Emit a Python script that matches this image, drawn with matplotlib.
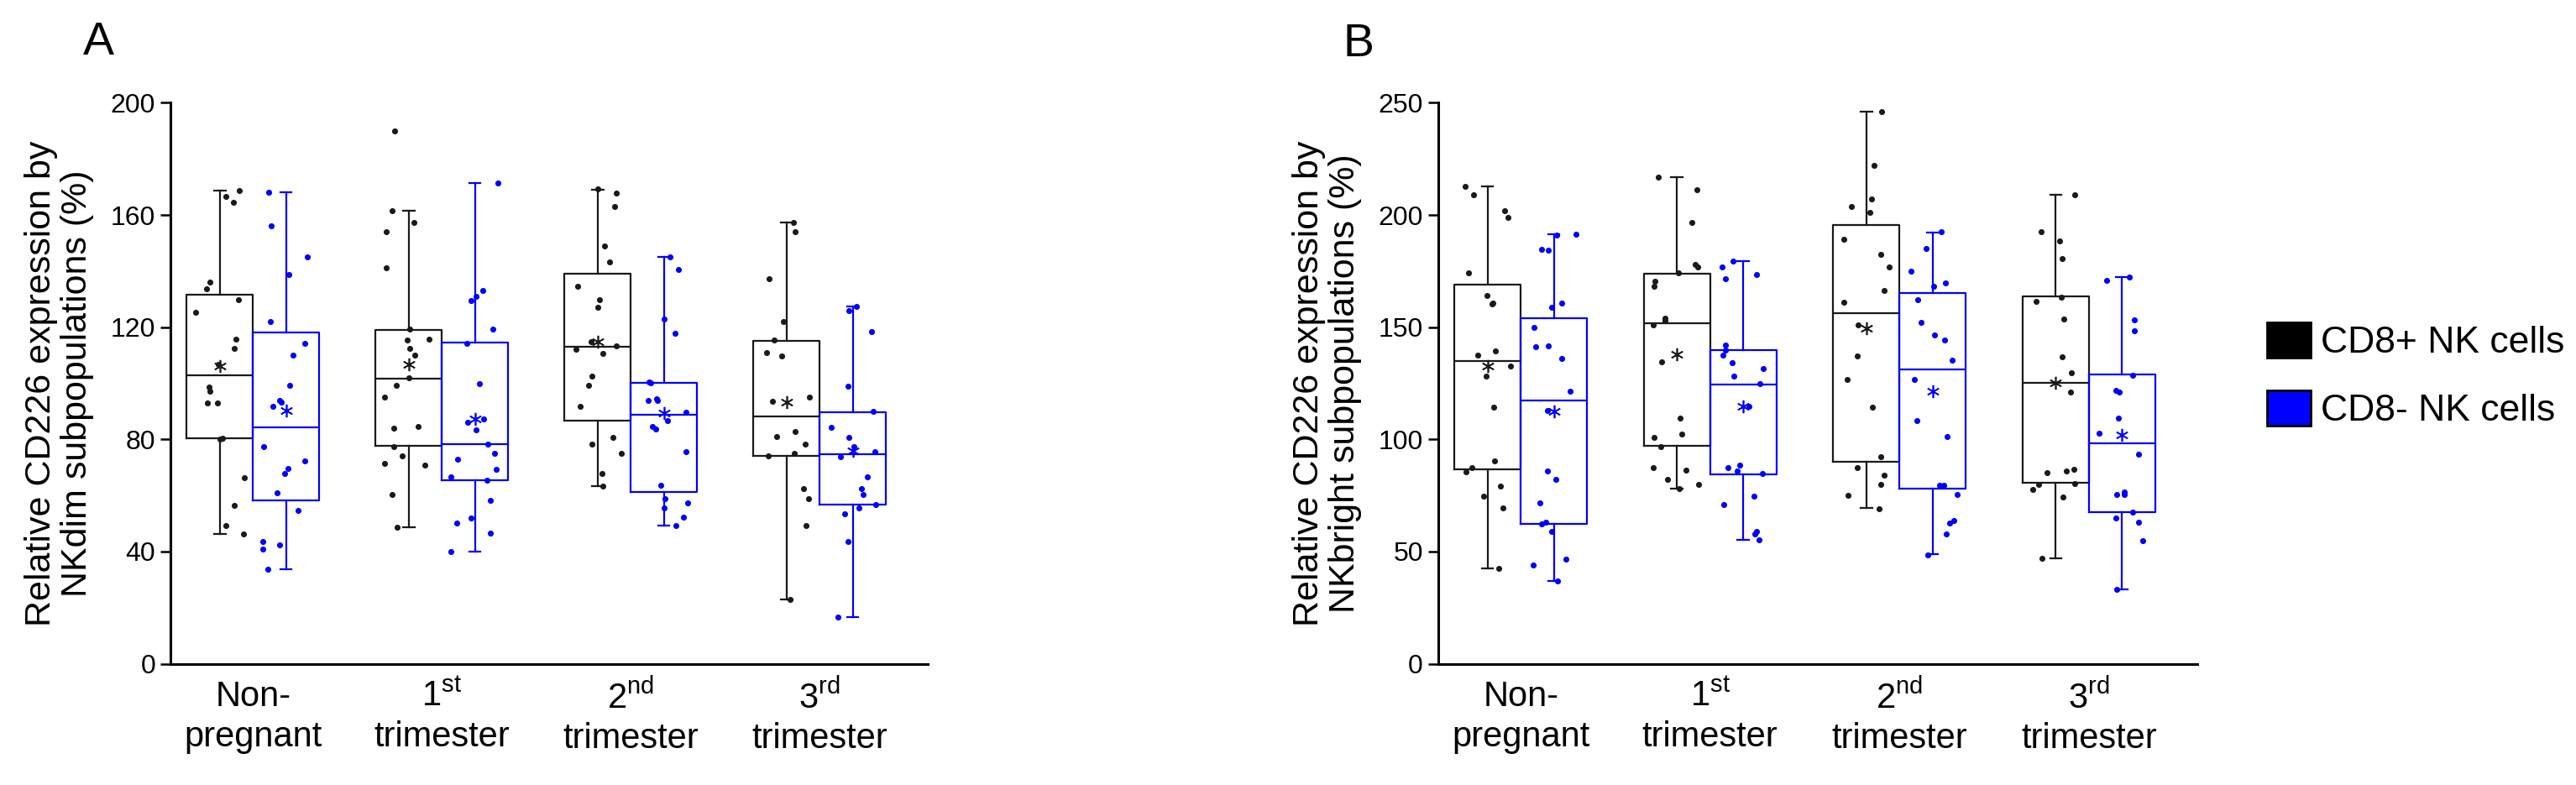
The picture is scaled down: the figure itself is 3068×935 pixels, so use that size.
import matplotlib.pyplot as plt
import numpy as np
from matplotlib.patches import Patch

plt.rcParams['font.family'] = ['Liberation Sans', 'DejaVu Sans']
plt.rcParams['mathtext.fontset'] = 'custom'
plt.rcParams['mathtext.rm'] = 'Liberation Sans'
plt.rcParams['mathtext.it'] = 'Liberation Sans:italic'

groups = ['Non-\npregnant', r'1$^{\mathrm{st}}$' + '\ntrimester',
          r'2$^{\mathrm{nd}}$' + '\ntrimester', r'3$^{\mathrm{rd}}$' + '\ntrimester']
series = ['CD8+ NK cells', 'CD8- NK cells']

# box summaries per group: low whisker, q1, median, q3, high whisker, mean
a_pos_box = [[46.3, 80.3, 102.9, 131.6, 168.8, 106.0],
             [48.7, 77.6, 101.8, 119.0, 161.4, 106.8],
             [63.3, 86.7, 113.0, 139.1, 169.1, 114.8],
             [22.9, 74.1, 88.1, 115.2, 157.2, 93.3]]
a_neg_box = [[33.8, 58.2, 84.4, 118.0, 168.1, 90.2],
             [40.1, 65.5, 78.2, 114.4, 171.4, 87.2],
             [49.3, 61.2, 88.8, 100.1, 145.0, 89.5],
             [16.7, 56.6, 74.8, 89.8, 127.3, 75.9]]
b_pos_box = [[42.6, 86.5, 135.1, 169.1, 212.8, 132.8],
             [78.2, 97.0, 151.8, 173.9, 216.7, 138.1],
             [69.3, 90.0, 156.3, 195.6, 246.0, 149.6],
             [47.0, 80.7, 125.1, 163.9, 208.9, 125.1]]
b_neg_box = [[37.0, 62.3, 117.5, 154.0, 191.6, 112.5],
             [55.4, 84.4, 124.4, 139.8, 179.6, 114.9],
             [48.8, 78.1, 131.2, 165.3, 192.3, 121.6],
             [33.2, 67.5, 98.2, 129.1, 172.3, 101.9]]

# individual samples
a_pos_pts = [
    [166.7, 168.8, 164.4, 133.8, 136.1, 129.8, 125.3, 115.8, 112.4, 106.7,
     97.3, 98.7, 93.1, 93.1, 80.0, 80.3, 66.4, 56.4, 49.3, 46.3],
    [189.9, 161.4, 157.3, 154.1, 141.1, 119.4, 115.5, 115.8, 109.9, 112.4,
     102.0, 99.4, 95.2, 83.9, 84.6, 77.3, 74.1, 71.3, 70.9, 60.4, 48.7],
    [167.7, 169.4, 163.1, 148.9, 143.3, 134.6, 129.8, 127.0, 113.4, 114.8,
     110.5, 112.0, 102.6, 99.4, 91.9, 80.8, 78.3, 75.1, 67.8, 63.3],
    [157.2, 154.0, 137.3, 122.0, 115.4, 109.6, 110.9, 95.2, 93.5, 82.9,
     81.0, 78.3, 75.1, 74.1, 62.5, 58.9, 49.3, 22.9]]
a_neg_pts = [
    [168.1, 156.2, 145.0, 138.7, 122.0, 114.1, 109.9, 99.4, 94.0, 93.2,
     91.9, 77.3, 72.3, 67.8, 69.6, 60.8, 54.7, 40.8, 42.5, 43.6, 33.8],
    [171.4, 133.1, 129.4, 130.9, 119.4, 114.1, 99.8, 87.4, 86.0, 83.5,
     78.3, 75.1, 73.0, 69.2, 66.7, 65.3, 58.2, 50.2, 51.9, 46.7, 40.1],
    [145.0, 140.5, 122.9, 117.9, 100.1, 100.5, 93.8, 94.0, 94.5, 89.8,
     86.7, 83.6, 84.6, 75.5, 63.6, 57.3, 55.4, 58.9, 52.4, 49.3],
    [127.3, 125.8, 118.3, 98.9, 90.0, 84.4, 80.8, 77.3, 75.5, 73.8,
     66.7, 62.5, 60.4, 55.6, 56.6, 53.5, 43.5, 16.7]]
b_pos_pts = [
    [212.8, 208.9, 199.1, 201.8, 174.2, 160.7, 164.2, 160.2, 139.3, 137.4,
     132.8, 128.2, 114.2, 90.5, 87.4, 85.6, 74.7, 79.1, 69.5, 42.6],
    [217.0, 211.2, 196.7, 178.1, 174.2, 176.8, 170.4, 168.2, 151.1, 153.9,
     153.0, 134.7, 109.6, 100.9, 102.3, 96.7, 86.3, 87.4, 82.1, 80.0, 78.2],
    [246.0, 222.1, 207.0, 203.9, 201.2, 189.3, 182.6, 176.8, 166.3, 161.1,
     151.1, 137.0, 126.8, 114.2, 92.1, 87.4, 83.9, 80.0, 75.1, 68.9],
    [208.9, 192.5, 188.6, 180.7, 163.5, 161.6, 153.7, 136.7, 129.8, 120.9,
     85.3, 86.0, 86.7, 80.4, 80.0, 77.5, 74.2, 47.0]]
b_neg_pts = [
    [191.2, 191.6, 184.4, 184.7, 158.8, 160.9, 149.8, 141.8, 141.2, 136.0,
     121.6, 112.8, 86.0, 82.1, 71.6, 62.3, 63.2, 58.9, 44.0, 46.5, 37.0],
    [179.6, 176.8, 173.3, 171.6, 142.1, 139.8, 137.4, 131.4, 134.0, 128.2,
     124.7, 114.9, 87.4, 88.6, 84.7, 86.0, 74.7, 70.9, 57.9, 58.9, 55.1],
    [192.6, 184.9, 174.9, 168.2, 169.6, 162.3, 152.3, 146.7, 144.4, 135.4,
     126.8, 108.4, 101.1, 79.5, 79.5, 75.4, 63.7, 62.8, 57.9, 48.4],
    [172.3, 170.9, 153.3, 148.4, 128.6, 120.9, 121.9, 109.6, 102.8, 93.3,
     76.7, 75.4, 75.4, 67.5, 64.9, 63.0, 54.9, 33.2]]

pos_color = '#1a1a1a'
neg_color = '#0000ff'
rng = np.random.default_rng(7)


def draw_panel(ax, pos_box, neg_box, pos_pts, neg_pts, ymax, ystep, ylabel):
    x = np.arange(len(groups))
    for boxes, pts, shift, color in [(pos_box, pos_pts, -0.175, pos_color),
                                     (neg_box, neg_pts, 0.175, neg_color)]:
        stats = [dict(whislo=b[0], q1=b[1], med=b[2], q3=b[3], whishi=b[4], mean=b[5])
                 for b in boxes]
        ax.bxp(stats, positions=x + shift, widths=0.35, capwidths=0.06,
               showmeans=True, showfliers=False, patch_artist=False,
               boxprops=dict(color=color, linewidth=1.6),
               whiskerprops=dict(color=color, linewidth=1.6),
               capprops=dict(color=color, linewidth=1.6),
               medianprops=dict(color=color, linewidth=1.6),
               meanprops=dict(marker=(6, 2, 0), markeredgecolor=color,
                              markerfacecolor=color, markersize=11, markeredgewidth=1.2))
        for i, vals in enumerate(pts):
            jit = rng.uniform(-0.13, 0.13, len(vals))
            ax.scatter(i + shift + jit, vals, s=26, color=color, zorder=3,
                       linewidths=0, clip_on=False)
    ax.set_xlim(-0.436, 3.573)
    ax.set_ylim(0, ymax)
    ax.set_yticks(np.arange(0, ymax + 1, ystep))
    ax.set_xticks(x)
    ax.set_xticklabels(groups, fontsize=30, linespacing=1.25)
    ax.spines['top'].set_visible(False)
    ax.spines['right'].set_visible(False)
    ax.spines['left'].set_linewidth(2.2)
    ax.spines['bottom'].set_linewidth(2.2)
    ax.tick_params(axis='y', length=9, width=1.8, labelsize=23, pad=4)
    ax.tick_params(axis='x', length=0, pad=14)
    ax.set_ylabel(ylabel, fontsize=31, labelpad=14, linespacing=1.1)


fig = plt.figure(figsize=(30.68, 9.35), dpi=100)
ax_a = fig.add_axes([0.0662, 0.1545, 0.2940, 0.7145])
ax_b = fig.add_axes([0.5583, 0.1545, 0.2947, 0.7145])

draw_panel(ax_a, a_pos_box, a_neg_box, a_pos_pts, a_neg_pts, 200, 40,
           'Relative CD226 expression by\nNKdim subpopulations (%)')
draw_panel(ax_b, b_pos_box, b_neg_box, b_pos_pts, b_neg_pts, 250, 50,
           'Relative CD226 expression by\nNKbright subpopulations (%)')

fig.text(117 / 3068, 1 - 51 / 935, 'A', fontsize=40, ha='center', va='center')
fig.text(1618 / 3068, 1 - 53 / 935, 'B', fontsize=40, ha='center', va='center')

handles = [Patch(facecolor='black', edgecolor='black', linewidth=2),
           Patch(facecolor=neg_color, edgecolor='black', linewidth=2)]
fig.legend(handles, series, loc='center left', bbox_to_anchor=(0.880, 0.522),
           frameon=False, fontsize=32, handlelength=1.17, handleheight=1.1,
           handletextpad=0.27, labelspacing=0.8, borderpad=0, borderaxespad=0)

fig.savefig('out.png', dpi=100)
